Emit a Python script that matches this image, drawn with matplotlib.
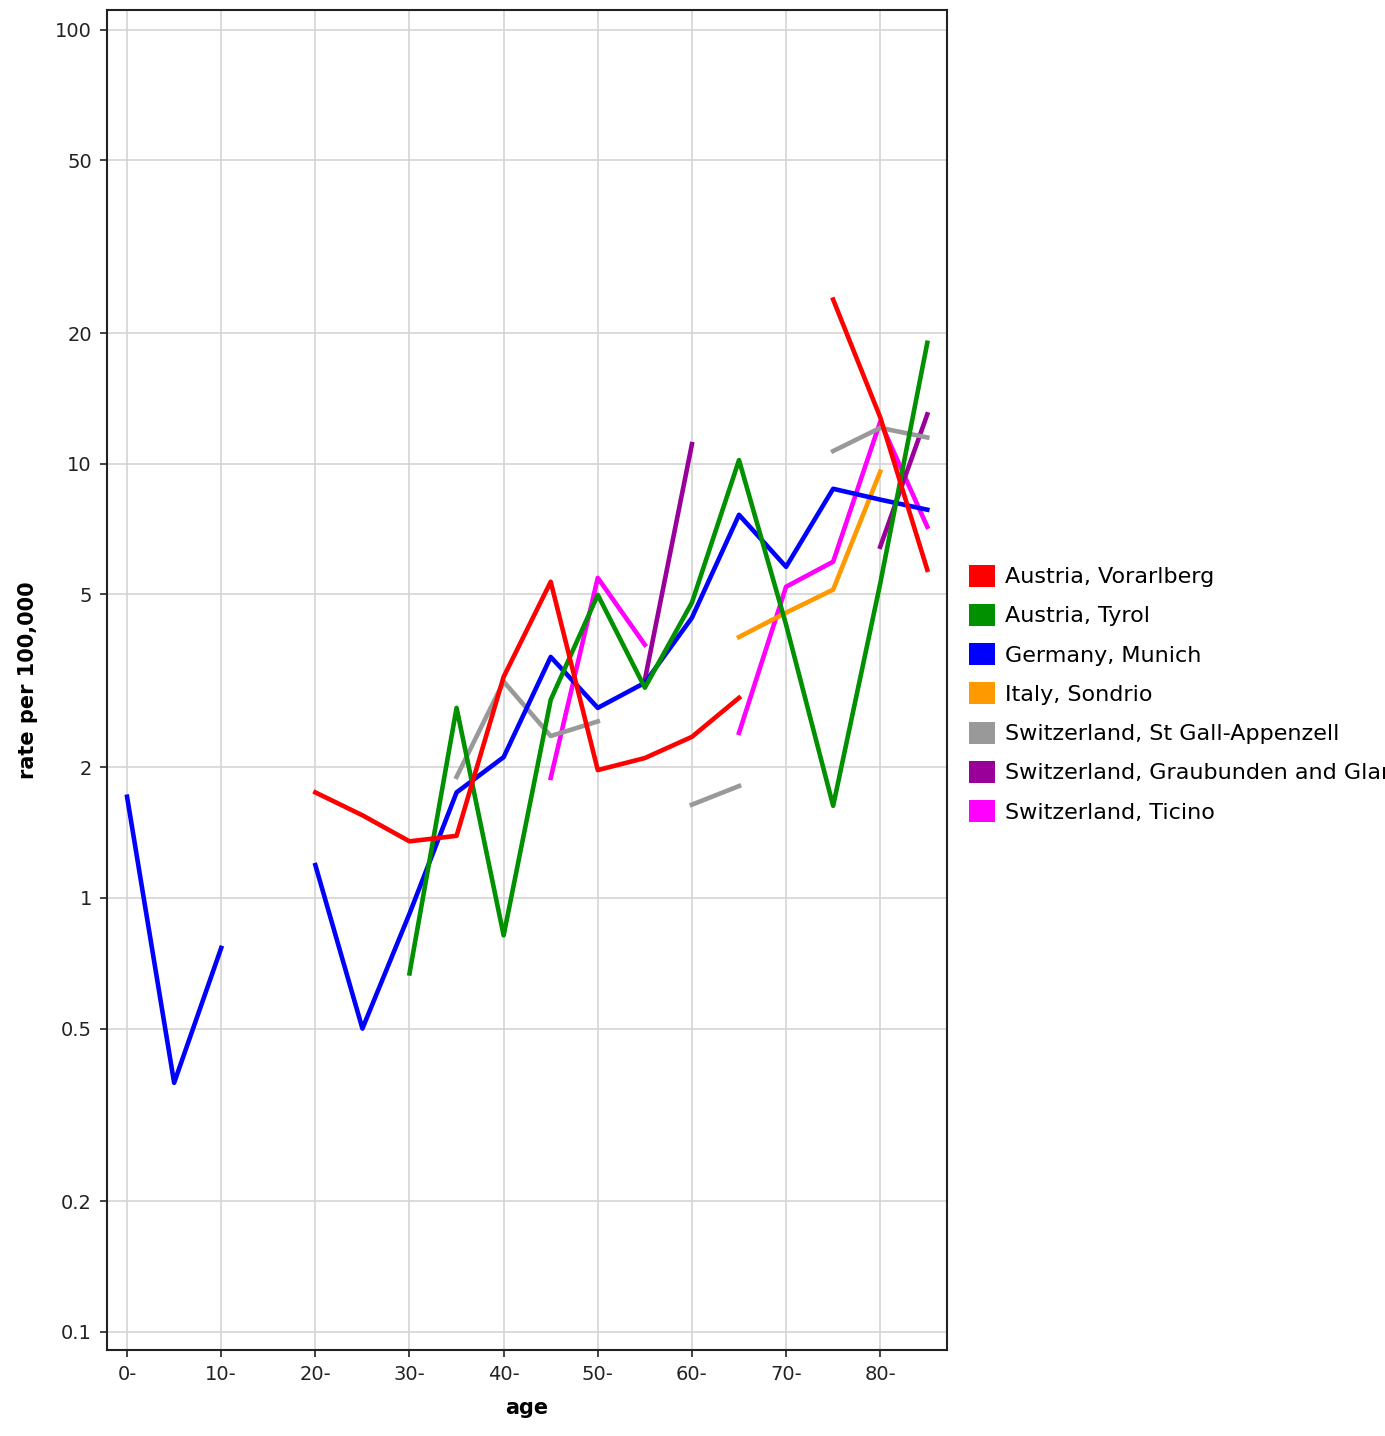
import matplotlib.pyplot as plt
import numpy as np

nan = np.nan

# age groups (5-year bands)
ages = ['0-', '5-', '10-', '15-', '20-', '25-', '30-', '35-', '40-',
        '45-', '50-', '55-', '60-', '65-', '70-', '75-', '80-', '85-']

vorarlberg = [nan, nan, nan, nan, 1.75, 1.55, 1.35, 1.39, 3.23,
              5.35, 1.97, 2.10, 2.35, 2.89, nan, 23.9, 12.8, 5.70]
tyrol = [nan, nan, nan, nan, nan, nan, 0.67, 2.74, 0.82,
         2.86, 4.99, 3.05, 4.79, 10.2, 4.26, 1.63, 5.3, 19.0]
munich = [1.71, 0.375, 0.767, nan, 1.19, 0.50, 0.92, 1.75, 2.11,
          3.59, 2.74, 3.13, 4.42, 7.63, 5.79, 8.76, 8.27, 7.84]
sondrio = [nan, nan, nan, nan, nan, nan, nan, nan, nan,
           nan, nan, nan, nan, 3.99, 4.54, 5.13, 9.59, nan]
st_gall = [nan, nan, nan, nan, nan, nan, nan, 1.90, 3.15,
           2.36, 2.55, nan, 1.64, 1.81, nan, 10.7, 12.1, 11.5]
graubunden = [nan, nan, nan, nan, nan, nan, nan, nan, nan,
              nan, nan, 3.18, 11.1, nan, nan, nan, 6.44, 13.0]
ticino = [nan, nan, nan, nan, nan, nan, nan, nan, nan,
          1.89, 5.46, 3.83, nan, 2.40, 5.21, 5.95, 12.5, 7.16]

series = [
    ('Austria, Vorarlberg', vorarlberg, '#ff0000'),
    ('Austria, Tyrol', tyrol, '#009000'),
    ('Germany, Munich', munich, '#0000ff'),
    ('Italy, Sondrio', sondrio, '#ff9900'),
    ('Switzerland, St Gall-Appenzell', st_gall, '#999999'),
    ('Switzerland, Graubunden and Glarus', graubunden, '#990099'),
    ('Switzerland, Ticino', ticino, '#ff00ff'),
]

yticks = [0.1, 0.2, 0.5, 1, 2, 5, 10, 20, 50, 100]
ytick_labels = ['0.1', '0.2', '0.5', '1', '2', '5', '10', '20', '50', '100']

fig = plt.figure(figsize=(13.85, 14.36), dpi=100)
ax = fig.add_axes([0.0773, 0.0599, 0.6065, 0.9331])

x = np.arange(len(ages))
handles = []
for i, (name, vals, color) in enumerate(series):
    ax.plot(x, vals, color=color, linewidth=3.3, zorder=10 - i)
    handles.append(plt.Rectangle((0, 0), 1, 1, facecolor=color, edgecolor='none'))

ax.set_yscale('log')
ax.set_ylim(0.0909, 111)
ax.set_xlim(-0.425, 17.42)
ax.set_yticks(yticks)
ax.set_yticklabels(ytick_labels)
ax.yaxis.set_minor_locator(plt.NullLocator())
ax.set_xticks(x[::2])
ax.set_xticklabels(ages[::2])
ax.tick_params(labelsize=14, length=5, width=1.2, colors='#222222', pad=6)

ax.grid(True, color='#d4d4d4', linewidth=1.2)
ax.set_axisbelow(True)
for s in ax.spines.values():
    s.set_linewidth(1.5)
    s.set_color('#222222')

ax.set_xlabel('age', fontsize=15, fontweight='bold', labelpad=10)
ax.set_ylabel('rate per 100,000', fontsize=15, fontweight='bold', labelpad=12)

# legend runs off the right edge, as in the original
fig.legend(handles, [s[0] for s in series], loc='upper left',
           bbox_to_anchor=(0.6935, 0.613), frameon=False, fontsize=16,
           handlelength=1.15, handleheight=1.15, handletextpad=0.45,
           labelspacing=0.75, borderaxespad=0)

fig.savefig('out.png', dpi=100)
